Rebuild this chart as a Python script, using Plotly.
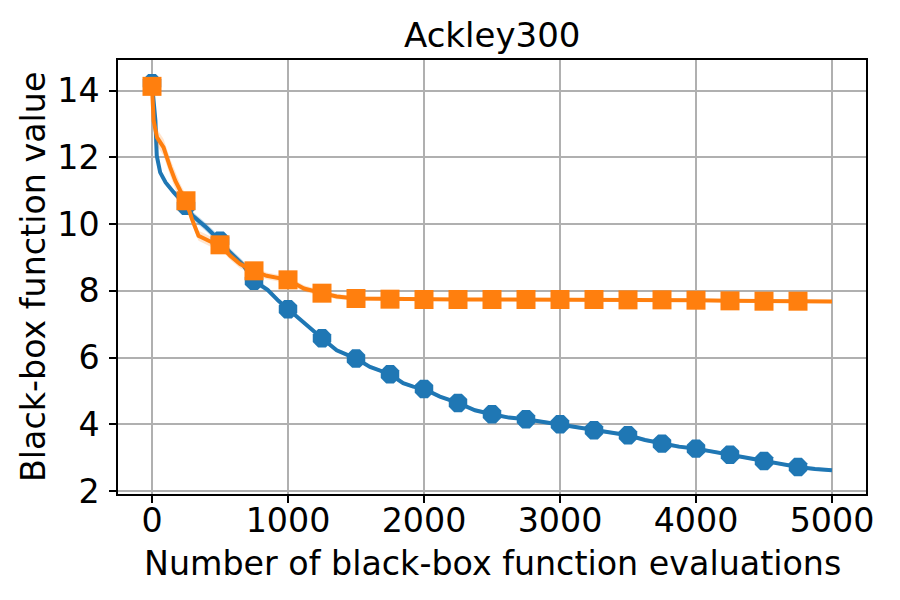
import plotly.graph_objects as go

# ---- data ----
blue_x = [0, 25, 35, 60, 100, 160, 250, 300, 400, 500, 575, 670, 750, 850, 930, 1000,
          1117, 1178, 1250, 1358, 1500, 1603, 1750, 1847, 1921, 2000, 2117, 2250, 2375,
          2500, 2625, 2750, 2875, 3000, 3125, 3250, 3375, 3500, 3625, 3750, 3875, 4000,
          4125, 4250, 4375, 4500, 4625, 4750, 4875, 5000]
blue_y = [14.22, 13.1, 12.05, 11.55, 11.25, 10.95, 10.55, 10.25, 9.9, 9.5, 9.15, 8.78, 8.3,
          8.03, 7.7, 7.45, 7.03, 6.84, 6.58, 6.22, 5.97, 5.72, 5.5, 5.23, 5.13, 5.06, 4.83,
          4.64, 4.42, 4.3, 4.2, 4.15, 4.07, 4.0, 3.9, 3.82, 3.74, 3.67, 3.53, 3.42, 3.33,
          3.27, 3.18, 3.09, 3.0, 2.9, 2.8, 2.72, 2.66, 2.62]
blue_std = [0.05, 0.08, 0.08, 0.08, 0.08, 0.08, 0.1, 0.12, 0.12, 0.12, 0.12, 0.12, 0.1,
            0.08, 0.08, 0.06, 0.06, 0.06, 0.06, 0.05, 0.05, 0.05, 0.05, 0.05, 0.05, 0.05,
            0.05, 0.05, 0.05, 0.05, 0.05, 0.05, 0.05, 0.05, 0.05, 0.05, 0.05, 0.05, 0.05,
            0.06, 0.06, 0.06, 0.05, 0.05, 0.05, 0.05, 0.05, 0.05, 0.05, 0.05]

orange_x = [0, 12, 37, 85, 134, 171, 208, 250, 294, 342, 428, 500, 575, 648, 750, 843,
            1000, 1117, 1250, 1358, 1500, 1750, 2000, 2250, 2500, 2750, 3000, 3250, 3500,
            3750, 4000, 4250, 4500, 4750, 5000]
orange_y = [14.13, 13.1, 12.6, 12.3, 11.7, 11.3, 11.0, 10.7, 10.15, 9.65, 9.48, 9.38, 9.05,
            8.8, 8.6, 8.45, 8.33, 8.07, 7.93, 7.83, 7.77, 7.75, 7.74, 7.74, 7.74, 7.74,
            7.74, 7.74, 7.73, 7.73, 7.72, 7.70, 7.69, 7.69, 7.68]
orange_std = [0.05, 0.25, 0.25, 0.25, 0.25, 0.25, 0.2, 0.18, 0.15, 0.15, 0.15, 0.12, 0.12,
              0.12, 0.12, 0.1, 0.1, 0.1, 0.08, 0.08, 0.06, 0.05, 0.05, 0.05, 0.05, 0.05,
              0.05, 0.05, 0.05, 0.05, 0.05, 0.05, 0.05, 0.05, 0.05]

marker_every = 250
x_ticks = [0, 1000, 2000, 3000, 4000, 5000]
y_ticks = [2, 4, 6, 8, 10, 12, 14]

title_text = "Ackley300"
x_label = "Number of black-box function evaluations"
y_label = "Black-box function value"

BLUE = "#1f77b4"
ORANGE = "#ff7f0e"
FONT = "DejaVu Sans"
FS = 33.3

fig = go.Figure()


def add_series(xs, ys, sd, color, band_rgba, symbol, msize):
    up = [y + s for y, s in zip(ys, sd)]
    lo = [y - s for y, s in zip(ys, sd)]
    fig.add_trace(go.Scatter(x=xs, y=up, mode="lines", line=dict(width=0),
                             showlegend=False, hoverinfo="skip"))
    fig.add_trace(go.Scatter(x=xs, y=lo, mode="lines", line=dict(width=0),
                             fill="tonexty", fillcolor=band_rgba,
                             showlegend=False, hoverinfo="skip"))
    fig.add_trace(go.Scatter(x=xs, y=ys, mode="lines", line=dict(color=color, width=4),
                             showlegend=False))
    mx = [x for x in xs if x % marker_every == 0 and x < 5000]
    my = [y for x, y in zip(xs, ys) if x % marker_every == 0 and x < 5000]
    fig.add_trace(go.Scatter(x=mx, y=my, mode="markers",
                             marker=dict(symbol=symbol, size=msize, color=color,
                                         line=dict(width=0)),
                             showlegend=False))


add_series(blue_x, blue_y, blue_std, BLUE, "rgba(31,119,180,0.25)", "octagon", 20)
add_series(orange_x, orange_y, orange_std, ORANGE, "rgba(255,127,14,0.2)", "square", 19)

axis_common = dict(
    showline=True, linecolor="black", linewidth=1.5, mirror=True,
    ticks="outside", ticklen=7, tickwidth=1.5, tickcolor="black",
    showgrid=True, gridcolor="#b0b0b0", gridwidth=1.5,
    zeroline=False, automargin=False,
    tickfont=dict(family=FONT, size=FS, color="black"),
)

fig.update_layout(
    width=900, height=600,
    paper_bgcolor="white", plot_bgcolor="white",
    margin=dict(l=110, r=42, t=52, b=114, autoexpand=False),
    font=dict(family=FONT, color="black"),
    xaxis=dict(range=[-250, 5250], tickvals=x_ticks, ticklabelstandoff=-11,
               **axis_common),
    yaxis=dict(range=[1.91, 14.92], tickvals=y_ticks, ticklabelstandoff=3,
               **axis_common),
    annotations=[
        dict(text=title_text, xref="paper", yref="paper", x=0.5, y=1,
             xanchor="center", yanchor="middle", yshift=25.5, showarrow=False,
             font=dict(family=FONT, size=34, color="black")),
        dict(text=x_label, xref="paper", yref="paper", x=0.5, y=0,
             xanchor="center", yanchor="middle", yshift=-69, showarrow=False,
             font=dict(family=FONT, size=FS, color="black")),
        dict(text=y_label, xref="paper", yref="paper", x=0, y=0.5, textangle=-90,
             xanchor="center", yanchor="middle", xshift=-85, showarrow=False,
             font=dict(family=FONT, size=FS, color="black")),
    ],
)

fig.write_html("out.html")
